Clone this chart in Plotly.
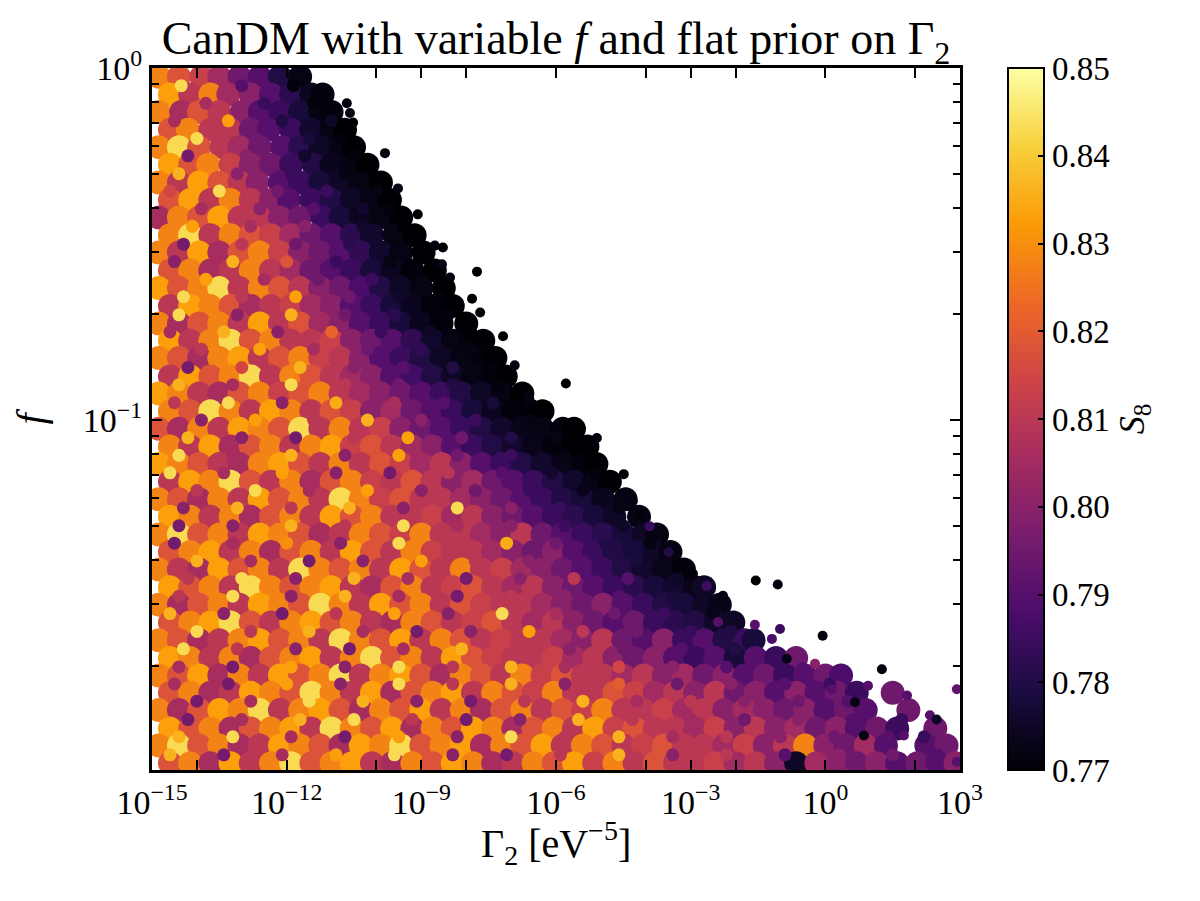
import plotly.graph_objects as go

# f of each row of samples, top to bottom
f_rows = [0.944, 0.841, 0.750, 0.668, 0.596, 0.531, 0.473, 0.422, 0.376, 0.335,
          0.299, 0.266, 0.237, 0.211, 0.188, 0.168, 0.150, 0.133, 0.119, 0.106,
          0.0944, 0.0841, 0.0750, 0.0668, 0.0596, 0.0531, 0.0473, 0.0422, 0.0376, 0.0335,
          0.0299, 0.0266, 0.0237, 0.0211, 0.0188, 0.0168, 0.0150, 0.0133, 0.0119, 0.0106]

# log10(Gamma_2 / eV^-5) of the samples in each row
log_gamma_rows = [
    [-14.85, -14.4, -13.9, -13.5, -13.05, -12.6, -12.15, -11.7],
    [-14.6, -14.15, -13.7, -13.3, -12.8, -12.35, -11.9, -11.45, -11.2],
    [-14.85, -14.35, -13.95, -13.5, -13.0, -12.6, -12.15, -11.7, -11.25, -11.0],
    [-14.6, -14.2, -13.7, -13.25, -12.8, -12.4, -11.9, -11.45, -11.0, -10.7],
    [-14.85, -14.4, -13.95, -13.45, -13.05, -12.6, -12.1, -11.7, -11.25, -10.8, -10.5],
    [-14.6, -14.15, -13.75, -13.25, -12.8, -12.35, -11.9, -11.4, -11.0, -10.55, -10.2],
    [-14.85, -14.4, -13.95, -13.5, -13.05, -12.65, -12.15, -11.7, -11.25, -10.8, -10.35, -9.9],
    [-14.6, -14.15, -13.7, -13.25, -12.8, -12.35, -11.95, -11.45, -11.0, -10.55, -10.1, -9.7],
    [-14.85, -14.4, -13.95, -13.5, -13.05, -12.6, -12.15, -11.7, -11.2, -10.8, -10.35, -9.9, -9.45],
    [-14.6, -14.15, -13.7, -13.25, -12.8, -12.35, -11.9, -11.45, -11.0, -10.55, -10.1, -9.6, -9.15],
    [-14.85, -14.4, -13.95, -13.5, -13.05, -12.6, -12.15, -11.7, -11.25, -10.8, -10.35, -9.9, -9.45, -8.95],
    [-14.6, -14.15, -13.7, -13.25, -12.8, -12.35, -11.9, -11.45, -11.0, -10.55, -10.1, -9.65, -9.2, -8.7],
    [-14.85, -14.4, -13.95, -13.5, -13.05, -12.6, -12.15, -11.7, -11.25, -10.8, -10.35, -9.9, -9.45, -9.0, -8.5],
    [-14.6, -14.15, -13.7, -13.25, -12.8, -12.35, -11.9, -11.45, -11.0, -10.55, -10.1, -9.65, -9.2, -8.75, -8.3],
    [-14.85, -14.4, -13.95, -13.5, -13.05, -12.6, -12.15, -11.7, -11.25, -10.8, -10.35, -9.9, -9.45, -9.0, -8.55, -8.0],
    [-14.6, -14.15, -13.7, -13.25, -12.8, -12.35, -11.9, -11.45, -11.0, -10.55, -10.1, -9.65, -9.2, -8.75, -8.3, -7.9, -7.62],
    [-14.85, -14.4, -13.95, -13.5, -13.05, -12.6, -12.15, -11.7, -11.25, -10.8, -10.35, -9.9, -9.45, -9.0, -8.55, -8.1, -7.65, -7.35],
    [-14.6, -14.15, -13.7, -13.25, -12.8, -12.35, -11.9, -11.45, -11.0, -10.55, -10.1, -9.65, -9.2, -8.75, -8.3, -7.85, -7.4, -7.12],
    [-14.85, -14.4, -13.95, -13.5, -13.05, -12.6, -12.15, -11.7, -11.25, -10.8, -10.35, -9.9, -9.45, -9.0, -8.55, -8.1, -7.65, -7.2, -6.75],
    [-14.6, -14.15, -13.7, -13.25, -12.8, -12.35, -11.9, -11.45, -11.0, -10.55, -10.1, -9.65, -9.2, -8.75, -8.3, -7.85, -7.4, -6.95, -6.55, -6.3],
    [-14.85, -14.4, -13.95, -13.5, -13.05, -12.6, -12.15, -11.7, -11.25, -10.8, -10.35, -9.9, -9.45, -9.0, -8.55, -8.1, -7.65, -7.2, -6.75, -6.3, -5.85, -5.6],
    [-14.6, -14.15, -13.7, -13.25, -12.8, -12.35, -11.9, -11.45, -11.0, -10.55, -10.1, -9.65, -9.2, -8.75, -8.3, -7.85, -7.4, -6.95, -6.5, -6.05, -5.6, -5.3],
    [-14.85, -14.4, -13.95, -13.5, -13.05, -12.6, -12.15, -11.7, -11.25, -10.8, -10.35, -9.9, -9.45, -9.0, -8.55, -8.1, -7.65, -7.2, -6.75, -6.3, -5.85, -5.4, -5.1],
    [-14.6, -14.15, -13.7, -13.25, -12.8, -12.35, -11.9, -11.45, -11.0, -10.55, -10.1, -9.65, -9.2, -8.75, -8.3, -7.85, -7.4, -6.95, -6.5, -6.05, -5.6, -5.15, -4.8],
    [-14.85, -14.4, -13.95, -13.5, -13.05, -12.6, -12.15, -11.7, -11.25, -10.8, -10.35, -9.9, -9.45, -9.0, -8.55, -8.1, -7.65, -7.2, -6.75, -6.3, -5.85, -5.4, -4.95, -4.45],
    [-14.6, -14.15, -13.7, -13.25, -12.8, -12.35, -11.9, -11.45, -11.0, -10.55, -10.1, -9.65, -9.2, -8.75, -8.3, -7.85, -7.4, -6.95, -6.5, -6.05, -5.6, -5.15, -4.7, -4.15],
    [-14.85, -14.4, -13.95, -13.5, -13.05, -12.6, -12.15, -11.7, -11.25, -10.8, -10.35, -9.9, -9.45, -9.0, -8.55, -8.1, -7.65, -7.2, -6.75, -6.3, -5.85, -5.4, -4.95, -4.5, -4.05, -3.75],
    [-14.6, -14.15, -13.7, -13.25, -12.8, -12.35, -11.9, -11.45, -11.0, -10.55, -10.1, -9.65, -9.2, -8.75, -8.3, -7.85, -7.4, -6.95, -6.5, -6.05, -5.6, -5.15, -4.7, -4.25, -3.8, -3.45],
    [-14.85, -14.4, -13.95, -13.5, -13.05, -12.6, -12.15, -11.7, -11.25, -10.8, -10.35, -9.9, -9.45, -9.0, -8.55, -8.1, -7.65, -7.2, -6.75, -6.3, -5.85, -5.4, -4.95, -4.5, -4.05, -3.6, -3.15],
    [-14.6, -14.15, -13.7, -13.25, -12.8, -12.35, -11.9, -11.45, -11.0, -10.55, -10.1, -9.65, -9.2, -8.75, -8.3, -7.85, -7.4, -6.95, -6.5, -6.05, -5.6, -5.15, -4.7, -4.25, -3.8, -3.35, -2.9, -2.7],
    [-14.85, -14.4, -13.95, -13.5, -13.05, -12.6, -12.15, -11.7, -11.25, -10.8, -10.35, -9.9, -9.45, -9.0, -8.55, -8.1, -7.65, -7.2, -6.75, -6.3, -5.85, -5.4, -4.95, -4.5, -4.05, -3.6, -3.15, -2.7, -2.35],
    [-14.6, -14.15, -13.7, -13.25, -12.8, -12.35, -11.9, -11.45, -11.0, -10.55, -10.1, -9.65, -9.2, -8.75, -8.3, -7.85, -7.4, -6.95, -6.5, -6.05, -5.6, -5.15, -4.7, -4.25, -3.8, -3.35, -2.9, -2.45, -2.05],
    [-14.85, -14.4, -13.95, -13.5, -13.05, -12.6, -12.15, -11.7, -11.25, -10.8, -10.35, -9.9, -9.45, -9.0, -8.55, -8.1, -7.65, -7.2, -6.75, -6.3, -5.85, -5.4, -4.95, -4.5, -4.05, -3.6, -3.15, -2.7, -2.25, -1.8, -1.6],
    [-14.6, -14.15, -13.7, -13.25, -12.8, -12.35, -11.9, -11.45, -11.0, -10.55, -10.1, -9.65, -9.2, -8.75, -8.3, -7.85, -7.4, -6.95, -6.5, -6.05, -5.6, -5.15, -4.7, -4.25, -3.8, -3.35, -2.9, -2.45, -2.0, -1.55, -1.1, -0.65],
    [-14.85, -14.4, -13.95, -13.5, -13.05, -12.6, -12.15, -11.7, -11.25, -10.8, -10.35, -9.9, -9.45, -9.0, -8.55, -8.1, -7.65, -7.2, -6.75, -6.3, -5.85, -5.4, -4.95, -4.5, -4.05, -3.6, -3.15, -2.7, -2.25, -1.8, -1.35, -0.9, -0.45, 0.0, 0.35],
    [-14.6, -14.15, -13.7, -13.25, -12.8, -12.35, -11.9, -11.45, -11.0, -10.55, -10.1, -9.65, -9.2, -8.75, -8.3, -7.85, -7.4, -6.95, -6.5, -6.05, -5.6, -5.15, -4.7, -4.25, -3.8, -3.35, -2.9, -2.45, -2.0, -1.55, -1.1, -0.65, -0.2, 0.25, 0.7, 1.5],
    [-14.85, -14.4, -13.95, -13.5, -13.05, -12.6, -12.15, -11.7, -11.25, -10.8, -10.35, -9.9, -9.45, -9.0, -8.55, -8.1, -7.65, -7.2, -6.75, -6.3, -5.85, -5.4, -4.95, -4.5, -4.05, -3.6, -3.15, -2.7, -2.25, -1.8, -1.35, -0.9, -0.45, 0.0, 0.45, 0.9, 1.85],
    [-14.6, -14.15, -13.7, -13.25, -12.8, -12.35, -11.9, -11.45, -11.0, -10.55, -10.1, -9.65, -9.2, -8.75, -8.3, -7.85, -7.4, -6.95, -6.5, -6.05, -5.6, -5.15, -4.7, -4.25, -3.8, -3.35, -2.9, -2.45, -2.0, -1.55, -1.1, -0.65, -0.2, 0.25, 0.7, 1.15, 1.6, 2.45],
    [-14.85, -14.4, -13.95, -13.5, -13.05, -12.6, -12.15, -11.7, -11.25, -10.8, -10.35, -9.9, -9.45, -9.0, -8.55, -8.1, -7.65, -7.2, -6.75, -6.3, -5.85, -5.4, -4.95, -4.5, -4.05, -3.6, -3.15, -2.7, -2.25, -1.8, -1.35, -0.9, -0.45, 0.0, 0.45, 0.9, 1.35, 2.25, 2.7],
    [-14.6, -14.15, -13.7, -13.25, -12.8, -12.35, -11.9, -11.45, -11.0, -10.55, -10.1, -9.65, -9.2, -8.75, -8.3, -7.85, -7.4, -6.95, -6.5, -6.05, -5.6, -5.15, -4.7, -4.25, -3.8, -3.35, -2.9, -2.45, -2.0, -1.55, -1.1, -0.65, -0.2, 0.25, 0.7, 1.15, 1.6, 2.05, 2.5, 2.9],
]

# S8 of the same samples
s8_rows = [
    [0.828, 0.818, 0.813, 0.805, 0.795, 0.79, 0.78, 0.772],
    [0.833, 0.81, 0.828, 0.805, 0.80, 0.79, 0.782, 0.774, 0.771],
    [0.828, 0.806, 0.818, 0.81, 0.80, 0.79, 0.785, 0.778, 0.772, 0.771],
    [0.818, 0.828, 0.81, 0.81, 0.795, 0.79, 0.785, 0.776, 0.772, 0.77],
    [0.828, 0.843, 0.818, 0.81, 0.805, 0.795, 0.79, 0.782, 0.775, 0.772, 0.77],
    [0.833, 0.818, 0.828, 0.813, 0.80, 0.795, 0.785, 0.78, 0.774, 0.772, 0.77],
    [0.828, 0.81, 0.833, 0.818, 0.81, 0.80, 0.79, 0.785, 0.778, 0.775, 0.772, 0.77],
    [0.818, 0.833, 0.81, 0.828, 0.81, 0.80, 0.79, 0.785, 0.78, 0.775, 0.772, 0.77],
    [0.806, 0.828, 0.818, 0.833, 0.81, 0.81, 0.80, 0.795, 0.785, 0.778, 0.774, 0.772, 0.77],
    [0.828, 0.843, 0.81, 0.828, 0.818, 0.813, 0.805, 0.795, 0.79, 0.782, 0.776, 0.772, 0.77],
    [0.828, 0.81, 0.833, 0.806, 0.818, 0.828, 0.813, 0.80, 0.795, 0.79, 0.783, 0.776, 0.772, 0.77],
    [0.818, 0.828, 0.806, 0.81, 0.828, 0.81, 0.805, 0.795, 0.79, 0.785, 0.778, 0.774, 0.771, 0.77],
    [0.833, 0.818, 0.828, 0.843, 0.81, 0.828, 0.818, 0.81, 0.80, 0.795, 0.788, 0.78, 0.775, 0.772, 0.77],
    [0.81, 0.833, 0.828, 0.818, 0.806, 0.81, 0.813, 0.805, 0.80, 0.79, 0.785, 0.778, 0.774, 0.771, 0.77],
    [0.828, 0.806, 0.818, 0.828, 0.81, 0.833, 0.81, 0.818, 0.805, 0.80, 0.79, 0.785, 0.778, 0.774, 0.771, 0.77],
    [0.833, 0.81, 0.828, 0.843, 0.818, 0.828, 0.81, 0.81, 0.813, 0.80, 0.795, 0.79, 0.783, 0.776, 0.772, 0.771, 0.77],
    [0.828, 0.818, 0.806, 0.828, 0.833, 0.81, 0.818, 0.828, 0.813, 0.81, 0.80, 0.79, 0.785, 0.78, 0.775, 0.772, 0.771, 0.77],
    [0.81, 0.833, 0.818, 0.828, 0.843, 0.81, 0.828, 0.818, 0.81, 0.805, 0.80, 0.79, 0.786, 0.78, 0.775, 0.772, 0.771, 0.77],
    [0.833, 0.828, 0.81, 0.806, 0.818, 0.828, 0.813, 0.818, 0.828, 0.81, 0.805, 0.80, 0.795, 0.79, 0.785, 0.78, 0.775, 0.772, 0.77],
    [0.828, 0.818, 0.843, 0.828, 0.81, 0.833, 0.828, 0.81, 0.818, 0.813, 0.80, 0.805, 0.795, 0.79, 0.785, 0.778, 0.774, 0.771, 0.77, 0.77],
    [0.818, 0.806, 0.828, 0.81, 0.833, 0.828, 0.818, 0.843, 0.81, 0.828, 0.81, 0.813, 0.80, 0.795, 0.79, 0.785, 0.78, 0.776, 0.773, 0.772, 0.771, 0.77],
    [0.828, 0.81, 0.833, 0.806, 0.818, 0.828, 0.81, 0.828, 0.833, 0.813, 0.818, 0.81, 0.805, 0.80, 0.79, 0.785, 0.78, 0.776, 0.773, 0.771, 0.77, 0.77],
    [0.833, 0.828, 0.818, 0.81, 0.806, 0.828, 0.833, 0.818, 0.81, 0.828, 0.81, 0.818, 0.813, 0.805, 0.81, 0.80, 0.79, 0.785, 0.78, 0.776, 0.773, 0.771, 0.77],
    [0.81, 0.833, 0.828, 0.843, 0.818, 0.81, 0.828, 0.806, 0.818, 0.828, 0.813, 0.81, 0.818, 0.81, 0.80, 0.805, 0.795, 0.79, 0.785, 0.78, 0.776, 0.772, 0.77],
    [0.828, 0.818, 0.806, 0.828, 0.81, 0.833, 0.818, 0.828, 0.81, 0.843, 0.828, 0.813, 0.818, 0.81, 0.81, 0.805, 0.80, 0.795, 0.79, 0.785, 0.78, 0.778, 0.774, 0.772],
    [0.833, 0.828, 0.81, 0.828, 0.806, 0.818, 0.828, 0.81, 0.833, 0.818, 0.828, 0.81, 0.81, 0.813, 0.805, 0.81, 0.80, 0.795, 0.79, 0.785, 0.782, 0.778, 0.775, 0.772],
    [0.828, 0.843, 0.818, 0.828, 0.81, 0.833, 0.828, 0.818, 0.806, 0.81, 0.828, 0.818, 0.813, 0.828, 0.81, 0.81, 0.805, 0.80, 0.81, 0.795, 0.79, 0.785, 0.782, 0.778, 0.775, 0.772],
    [0.818, 0.828, 0.833, 0.81, 0.828, 0.806, 0.818, 0.828, 0.81, 0.833, 0.818, 0.81, 0.828, 0.813, 0.81, 0.81, 0.805, 0.80, 0.795, 0.80, 0.79, 0.785, 0.78, 0.778, 0.775, 0.772],
    [0.828, 0.81, 0.806, 0.833, 0.818, 0.828, 0.81, 0.843, 0.828, 0.818, 0.828, 0.81, 0.833, 0.818, 0.81, 0.828, 0.81, 0.813, 0.805, 0.80, 0.795, 0.79, 0.785, 0.78, 0.776, 0.773, 0.771],
    [0.833, 0.818, 0.828, 0.81, 0.843, 0.828, 0.818, 0.828, 0.833, 0.81, 0.806, 0.818, 0.828, 0.81, 0.813, 0.818, 0.81, 0.805, 0.81, 0.80, 0.795, 0.79, 0.785, 0.782, 0.778, 0.776, 0.773, 0.775],
    [0.828, 0.806, 0.818, 0.828, 0.81, 0.833, 0.828, 0.818, 0.843, 0.828, 0.81, 0.833, 0.818, 0.828, 0.81, 0.818, 0.813, 0.81, 0.81, 0.805, 0.80, 0.795, 0.80, 0.79, 0.785, 0.78, 0.778, 0.775, 0.773],
    [0.818, 0.828, 0.833, 0.843, 0.818, 0.81, 0.828, 0.833, 0.818, 0.828, 0.81, 0.806, 0.828, 0.818, 0.81, 0.813, 0.818, 0.81, 0.805, 0.81, 0.80, 0.795, 0.79, 0.795, 0.785, 0.782, 0.78, 0.776, 0.775],
    [0.828, 0.818, 0.806, 0.81, 0.828, 0.833, 0.818, 0.828, 0.81, 0.843, 0.828, 0.818, 0.833, 0.81, 0.828, 0.818, 0.81, 0.813, 0.81, 0.81, 0.805, 0.80, 0.81, 0.795, 0.79, 0.80, 0.785, 0.79, 0.78, 0.785, 0.778],
    [0.833, 0.828, 0.81, 0.828, 0.806, 0.818, 0.828, 0.833, 0.81, 0.828, 0.843, 0.818, 0.828, 0.81, 0.833, 0.818, 0.813, 0.81, 0.81, 0.813, 0.805, 0.81, 0.80, 0.795, 0.80, 0.79, 0.785, 0.79, 0.778, 0.79, 0.785, 0.795],
    [0.828, 0.818, 0.833, 0.806, 0.828, 0.81, 0.833, 0.818, 0.828, 0.843, 0.81, 0.828, 0.833, 0.818, 0.806, 0.828, 0.818, 0.81, 0.828, 0.813, 0.818, 0.81, 0.81, 0.805, 0.81, 0.80, 0.805, 0.795, 0.80, 0.79, 0.795, 0.785, 0.79, 0.795, 0.788],
    [0.818, 0.828, 0.806, 0.81, 0.833, 0.828, 0.818, 0.843, 0.828, 0.81, 0.833, 0.806, 0.818, 0.828, 0.833, 0.81, 0.828, 0.818, 0.813, 0.828, 0.81, 0.81, 0.818, 0.813, 0.805, 0.81, 0.80, 0.81, 0.795, 0.80, 0.79, 0.80, 0.79, 0.795, 0.785, 0.795],
    [0.828, 0.806, 0.818, 0.833, 0.828, 0.843, 0.81, 0.828, 0.833, 0.818, 0.806, 0.828, 0.818, 0.833, 0.81, 0.828, 0.806, 0.818, 0.828, 0.81, 0.818, 0.813, 0.828, 0.81, 0.81, 0.813, 0.805, 0.81, 0.80, 0.805, 0.80, 0.795, 0.80, 0.79, 0.795, 0.79, 0.795],
    [0.833, 0.818, 0.828, 0.806, 0.818, 0.828, 0.833, 0.81, 0.843, 0.828, 0.818, 0.833, 0.806, 0.828, 0.818, 0.833, 0.828, 0.806, 0.818, 0.828, 0.81, 0.833, 0.813, 0.818, 0.81, 0.81, 0.805, 0.813, 0.80, 0.81, 0.80, 0.805, 0.795, 0.80, 0.79, 0.795, 0.785, 0.795],
    [0.828, 0.843, 0.818, 0.828, 0.806, 0.81, 0.833, 0.828, 0.818, 0.806, 0.833, 0.828, 0.843, 0.818, 0.828, 0.833, 0.806, 0.828, 0.818, 0.833, 0.81, 0.828, 0.818, 0.81, 0.813, 0.818, 0.81, 0.81, 0.805, 0.813, 0.80, 0.81, 0.828, 0.80, 0.795, 0.805, 0.79, 0.79, 0.795],
    [0.818, 0.828, 0.806, 0.833, 0.81, 0.828, 0.843, 0.818, 0.828, 0.833, 0.81, 0.806, 0.828, 0.818, 0.833, 0.828, 0.806, 0.81, 0.828, 0.818, 0.833, 0.813, 0.828, 0.81, 0.818, 0.81, 0.81, 0.813, 0.805, 0.81, 0.80, 0.775, 0.805, 0.80, 0.795, 0.80, 0.79, 0.795, 0.79, 0.80],
]

# smaller samples lying between the rows
speck_f_rows = [0.891, 0.794, 0.708, 0.631, 0.563, 0.501, 0.447, 0.398, 0.355, 0.316,
                0.282, 0.251, 0.224, 0.199, 0.178, 0.159, 0.141, 0.126, 0.112, 0.100,
                0.0891, 0.0794, 0.0708, 0.0631, 0.0563, 0.0501, 0.0447, 0.0398, 0.0355, 0.0316,
                0.0282, 0.0251, 0.0224, 0.0199, 0.0178, 0.0159, 0.0141, 0.0126, 0.0112]
speck_log_gamma_rows = [
    [-14.35, -13.0, -11.85],
    [-13.8, -12.5, -11.4],
    [-14.5, -13.3, -12.1, -11.0],
    [-14.0, -12.7, -11.5, -10.8],
    [-14.2, -12.9, -11.6, -10.5],
    [-14.4, -13.1, -11.9, -10.7],
    [-14.6, -13.5, -12.2, -11.1, -10.0],
    [-13.9, -12.6, -11.4, -10.3, -9.7],
    [-14.1, -12.8, -11.6, -10.3, -9.4],
    [-14.3, -13.0, -11.8, -10.6, -9.5],
    [-14.5, -13.2, -12.0, -10.9, -9.7],
    [-13.8, -12.5, -11.3, -10.1, -9.0],
    [-14.3, -13.0, -11.8, -10.6, -9.5, -8.6],
    [-14.4, -13.1, -11.9, -10.7, -9.6, -8.4],
    [-14.6, -13.4, -12.2, -11.0, -9.9, -8.8, -7.9],
    [-13.9, -12.6, -11.4, -10.2, -9.0, -7.9],
    [-14.2, -13.0, -11.7, -10.5, -9.4, -8.3, -7.4],
    [-14.4, -13.2, -11.9, -10.7, -9.5, -8.3, -7.3],
    [-14.5, -13.3, -12.1, -10.9, -9.6, -8.5, -7.4, -6.6],
    [-13.9, -12.7, -11.4, -10.2, -9.0, -7.8, -6.6],
    [-14.2, -13.0, -11.8, -10.5, -9.3, -8.1, -7.0, -6.0],
    [-14.4, -13.2, -11.9, -10.7, -9.5, -8.2, -7.0, -5.8],
    [-14.6, -13.4, -12.1, -10.9, -9.7, -8.4, -7.2, -6.1, -5.1],
    [-14.0, -12.7, -11.5, -10.2, -9.0, -7.8, -6.6, -5.4],
    [-14.3, -13.1, -11.9, -10.6, -9.4, -8.2, -7.0, -5.9, -4.6],
    [-14.4, -13.2, -11.9, -10.7, -9.4, -8.2, -7.0, -5.8, -4.5],
    [-14.5, -13.2, -12.0, -10.8, -9.5, -8.3, -7.1, -6.0, -4.9, -3.9],
    [-14.0, -12.8, -11.5, -10.3, -9.0, -7.8, -6.6, -5.4, -4.2],
    [-14.2, -13.0, -11.8, -10.5, -9.3, -8.0, -6.8, -5.6, -4.4, -3.3],
    [-14.4, -13.2, -11.9, -10.7, -9.5, -8.2, -7.0, -5.8, -4.6, -3.4],
    [-14.6, -13.4, -12.1, -10.9, -9.6, -8.4, -7.2, -6.0, -4.7, -3.6, -2.5],
    [-14.0, -12.8, -11.5, -10.3, -9.1, -7.9, -6.6, -5.4, -4.2, -3.0, -2.1],
    [-14.3, -13.1, -11.8, -10.6, -9.4, -8.1, -6.9, -5.7, -4.5, -3.2, -2.0],
    [-14.4, -13.2, -11.9, -10.7, -9.5, -8.3, -7.0, -5.8, -4.6, -3.4, -2.2, -1.0],
    [-14.5, -13.3, -12.0, -10.8, -9.5, -8.3, -7.0, -5.8, -4.6, -3.3, -2.1, -0.9, 0.1],
    [-14.0, -12.8, -11.5, -10.3, -9.1, -7.9, -6.7, -5.4, -4.2, -3.0, -1.8, -0.6, 0.5],
    [-14.2, -13.0, -11.7, -10.5, -9.2, -8.0, -6.8, -5.5, -4.3, -3.0, -1.8, -0.6, 0.6, 1.7],
    [-14.4, -13.2, -11.9, -10.7, -9.5, -8.2, -7.0, -5.8, -4.6, -3.4, -2.2, -1.0, 0.2, 1.4, 2.2],
    [-14.6, -13.4, -12.1, -10.9, -9.6, -8.3, -7.1, -5.9, -4.6, -3.4, -2.2, -0.9, 0.3, 1.5, 2.5],
]
speck_s8_rows = [
    [0.843, 0.79, 0.771],
    [0.806, 0.785, 0.771],
    [0.806, 0.833, 0.78, 0.775],
    [0.843, 0.795, 0.778, 0.771],
    [0.796, 0.80, 0.776, 0.771],
    [0.836, 0.80, 0.785, 0.772],
    [0.815, 0.843, 0.795, 0.785, 0.772],
    [0.806, 0.80, 0.79, 0.776, 0.771],
    [0.833, 0.806, 0.80, 0.776, 0.77],
    [0.796, 0.81, 0.795, 0.782, 0.772],
    [0.80, 0.836, 0.818, 0.785, 0.772],
    [0.833, 0.806, 0.795, 0.785, 0.772],
    [0.843, 0.81, 0.833, 0.795, 0.776, 0.771],
    [0.843, 0.80, 0.836, 0.795, 0.782, 0.771],
    [0.806, 0.836, 0.80, 0.822, 0.785, 0.775, 0.77],
    [0.81, 0.833, 0.806, 0.795, 0.783, 0.772],
    [0.796, 0.815, 0.836, 0.80, 0.79, 0.78, 0.771],
    [0.836, 0.806, 0.843, 0.81, 0.795, 0.78, 0.771],
    [0.81, 0.843, 0.80, 0.835, 0.806, 0.79, 0.778, 0.771],
    [0.80, 0.833, 0.81, 0.836, 0.80, 0.785, 0.772],
    [0.836, 0.80, 0.796, 0.81, 0.833, 0.795, 0.78, 0.772],
    [0.843, 0.806, 0.836, 0.80, 0.833, 0.795, 0.785, 0.772],
    [0.843, 0.806, 0.833, 0.80, 0.796, 0.81, 0.79, 0.776, 0.771],
    [0.81, 0.843, 0.806, 0.833, 0.80, 0.795, 0.785, 0.773],
    [0.80, 0.836, 0.81, 0.836, 0.80, 0.843, 0.80, 0.785, 0.772],
    [0.796, 0.80, 0.836, 0.81, 0.843, 0.806, 0.80, 0.785, 0.775],
    [0.796, 0.806, 0.83, 0.80, 0.843, 0.81, 0.835, 0.795, 0.78, 0.772],
    [0.836, 0.806, 0.796, 0.80, 0.833, 0.81, 0.80, 0.79, 0.778],
    [0.81, 0.843, 0.80, 0.836, 0.806, 0.796, 0.80, 0.81, 0.79, 0.775],
    [0.81, 0.843, 0.80, 0.836, 0.806, 0.796, 0.81, 0.80, 0.79, 0.778],
    [0.836, 0.80, 0.796, 0.81, 0.833, 0.80, 0.843, 0.806, 0.795, 0.785, 0.773],
    [0.843, 0.81, 0.836, 0.806, 0.796, 0.80, 0.833, 0.81, 0.795, 0.785, 0.78],
    [0.843, 0.81, 0.80, 0.796, 0.806, 0.836, 0.81, 0.80, 0.795, 0.79, 0.78],
    [0.806, 0.796, 0.833, 0.80, 0.843, 0.81, 0.836, 0.806, 0.815, 0.80, 0.79, 0.785],
    [0.806, 0.796, 0.833, 0.80, 0.843, 0.81, 0.836, 0.80, 0.82, 0.795, 0.80, 0.79, 0.785],
    [0.796, 0.806, 0.843, 0.836, 0.80, 0.796, 0.81, 0.836, 0.806, 0.81, 0.80, 0.795, 0.79],
    [0.796, 0.806, 0.836, 0.843, 0.81, 0.796, 0.80, 0.836, 0.81, 0.805, 0.795, 0.80, 0.79, 0.785],
    [0.836, 0.843, 0.806, 0.796, 0.833, 0.80, 0.843, 0.81, 0.836, 0.806, 0.81, 0.80, 0.795, 0.79, 0.785],
    [0.836, 0.796, 0.806, 0.833, 0.843, 0.80, 0.796, 0.81, 0.836, 0.80, 0.81, 0.79, 0.80, 0.795, 0.79],
]

# isolated samples beyond the edge of the cloud
edge_log_gamma = [-10.66, -10.59, -10.52, -9.81, -9.52, -9.08, -8.70, -8.52, -8.54, -7.76,
                  -8.36, -7.87, -7.69, -7.18, -6.92, -6.63, -5.78, -6.60, -5.09, -4.49,
                  -4.29, -4.13, -3.91, -3.49, -2.95, -1.55, -1.06, -2.64, -2.28, -2.39,
                  -1.57, -1.01, -0.06, -1.19, -0.52, -0.23, -0.86, 0.14, 0.95, 1.26,
                  0.66, 1.82, 2.93, 2.33, 2.48, 0.86, 1.75, 2.55, 2.93]
edge_f = [0.794, 0.745, 0.70, 0.573, 0.455, 0.384, 0.313, 0.309, 0.277, 0.264,
          0.254, 0.221, 0.202, 0.173, 0.143, 0.117, 0.127, 0.116, 0.0889, 0.0702,
          0.0588, 0.054, 0.0499, 0.0421, 0.0366, 0.035, 0.0341, 0.0338, 0.0317, 0.0267,
          0.0262, 0.0255, 0.0244, 0.0239, 0.0199, 0.0203, 0.021, 0.0172, 0.0176, 0.0196,
          0.0158, 0.0165, 0.0172, 0.0145, 0.0141, 0.0127, 0.0127, 0.0122, 0.0107]
edge_s8 = [0.771, 0.772, 0.77, 0.771, 0.772, 0.77, 0.771, 0.77, 0.772, 0.77,
           0.771, 0.77, 0.771, 0.77, 0.772, 0.771, 0.77, 0.772, 0.771, 0.77,
           0.772, 0.771, 0.785, 0.78, 0.771, 0.77, 0.771, 0.786, 0.772, 0.79,
           0.79, 0.785, 0.771, 0.788, 0.79, 0.80, 0.772, 0.79, 0.79, 0.771,
           0.772, 0.79, 0.792, 0.79, 0.775, 0.772, 0.79, 0.795, 0.79]

x_label_exp = [-15, -12, -9, -6, -3, 0, 3]
x_minor_exp = [-14, -10, -8, -4, -2, 2]
f_minor = [0.02, 0.03, 0.04, 0.05, 0.06, 0.07, 0.08, 0.09,
           0.2, 0.3, 0.4, 0.5, 0.6, 0.7, 0.8, 0.9]
s8_ticks = [0.77, 0.78, 0.79, 0.80, 0.81, 0.82, 0.83, 0.84, 0.85]


def flatten(f_list, g_rows, s_rows):
    xs, ys, cs = [], [], []
    for fv, g_row, s_row in zip(f_list, g_rows, s_rows):
        for g, s in zip(g_row, s_row):
            xs.append(10 ** g)
            ys.append(fv)
            cs.append(s)
    return xs, ys, cs


def pow10(e):
    return "10<sup>%s</sup>" % str(e).replace("-", "\u2212")


gamma, f, s8 = flatten(f_rows, log_gamma_rows, s8_rows)
sp_gamma, sp_f, sp_s8 = flatten(speck_f_rows, speck_log_gamma_rows, speck_s8_rows)

serif = "Liberation Serif"

fig = go.Figure()
fig.add_trace(go.Scatter(
    x=gamma, y=f, mode="markers", showlegend=False, hoverinfo="skip",
    marker=dict(size=24, color=s8, coloraxis="coloraxis", line_width=0),
))
fig.add_trace(go.Scatter(
    x=sp_gamma, y=sp_f, mode="markers", showlegend=False, hoverinfo="skip",
    marker=dict(size=13, color=sp_s8, coloraxis="coloraxis", line_width=0),
))
fig.add_trace(go.Scatter(
    x=[10 ** g for g in edge_log_gamma], y=edge_f, mode="markers",
    showlegend=False, hoverinfo="skip",
    marker=dict(size=10, color=edge_s8, coloraxis="coloraxis", line_width=0),
))

# the page body adds 8px, so the figure is 8px smaller than the window
fig.update_layout(
    width=1192, height=893,
    margin=dict(l=144, r=240, t=60, b=131, autoexpand=False),
    paper_bgcolor="white", plot_bgcolor="white",
    font=dict(family=serif, size=32, color="black"),
    title=dict(text="CanDM with variable <i>f</i> and flat prior on \u0393<sub>2</sub>",
               x=0.5, xref="paper", xanchor="center",
               y=1 - 30 / 893, yref="container", yanchor="middle",
               font=dict(family=serif, size=46)),
    coloraxis=dict(
        colorscale="Inferno", cmin=0.77, cmax=0.85,
        colorbar=dict(
            x=1.06, xanchor="left", y=0.5, yanchor="middle", len=1, lenmode="fraction",
            thickness=36, outlinewidth=2, outlinecolor="black", xpad=0, ypad=0,
            tickvals=s8_ticks, ticktext=["%.2f" % v for v in s8_ticks],
            ticks="inside", ticklen=7, tickwidth=2, tickcolor="black",
            tickfont=dict(family=serif, size=33),
            title=dict(text="<i>S</i><sub>8</sub>", side="right",
                       font=dict(family=serif, size=36)),
        ),
    ),
    annotations=[dict(text="\u0393<sub>2</sub> [eV<sup>\u22125</sup>]",
                      x=0.5, xref="paper", y=-0.104, yref="paper",
                      xanchor="center", yanchor="middle", showarrow=False,
                      font=dict(family=serif, size=40))],
)

fig.update_xaxes(
    type="log", range=[-15, 3], automargin=False,
    tickvals=[10 ** e for e in x_label_exp],
    ticktext=[pow10(e) for e in x_label_exp],
    ticks="inside", ticklen=10, tickwidth=2, tickcolor="black",
    minor=dict(tickvals=[10 ** e for e in x_minor_exp], ticks="inside",
               ticklen=10, tickwidth=2, tickcolor="black"),
    showline=True, linewidth=3, linecolor="black", mirror="ticks",
    showgrid=False, zeroline=False,
    tickfont=dict(family=serif, size=34),
)
fig.update_yaxes(
    type="log", range=[-1.994, 0], automargin=False,
    tickvals=[0.1, 1], ticktext=[pow10(-1), pow10(0)],
    ticks="inside", ticklen=10, tickwidth=2, tickcolor="black",
    minor=dict(tickvals=f_minor, ticks="inside", ticklen=7, tickwidth=1.5, tickcolor="black"),
    showline=True, linewidth=3, linecolor="black", mirror="ticks",
    showgrid=False, zeroline=False,
    tickfont=dict(family=serif, size=34),
    title=dict(text="<i>f</i>", standoff=30, font=dict(family=serif, size=40)),
)

fig.write_html("out.html")
